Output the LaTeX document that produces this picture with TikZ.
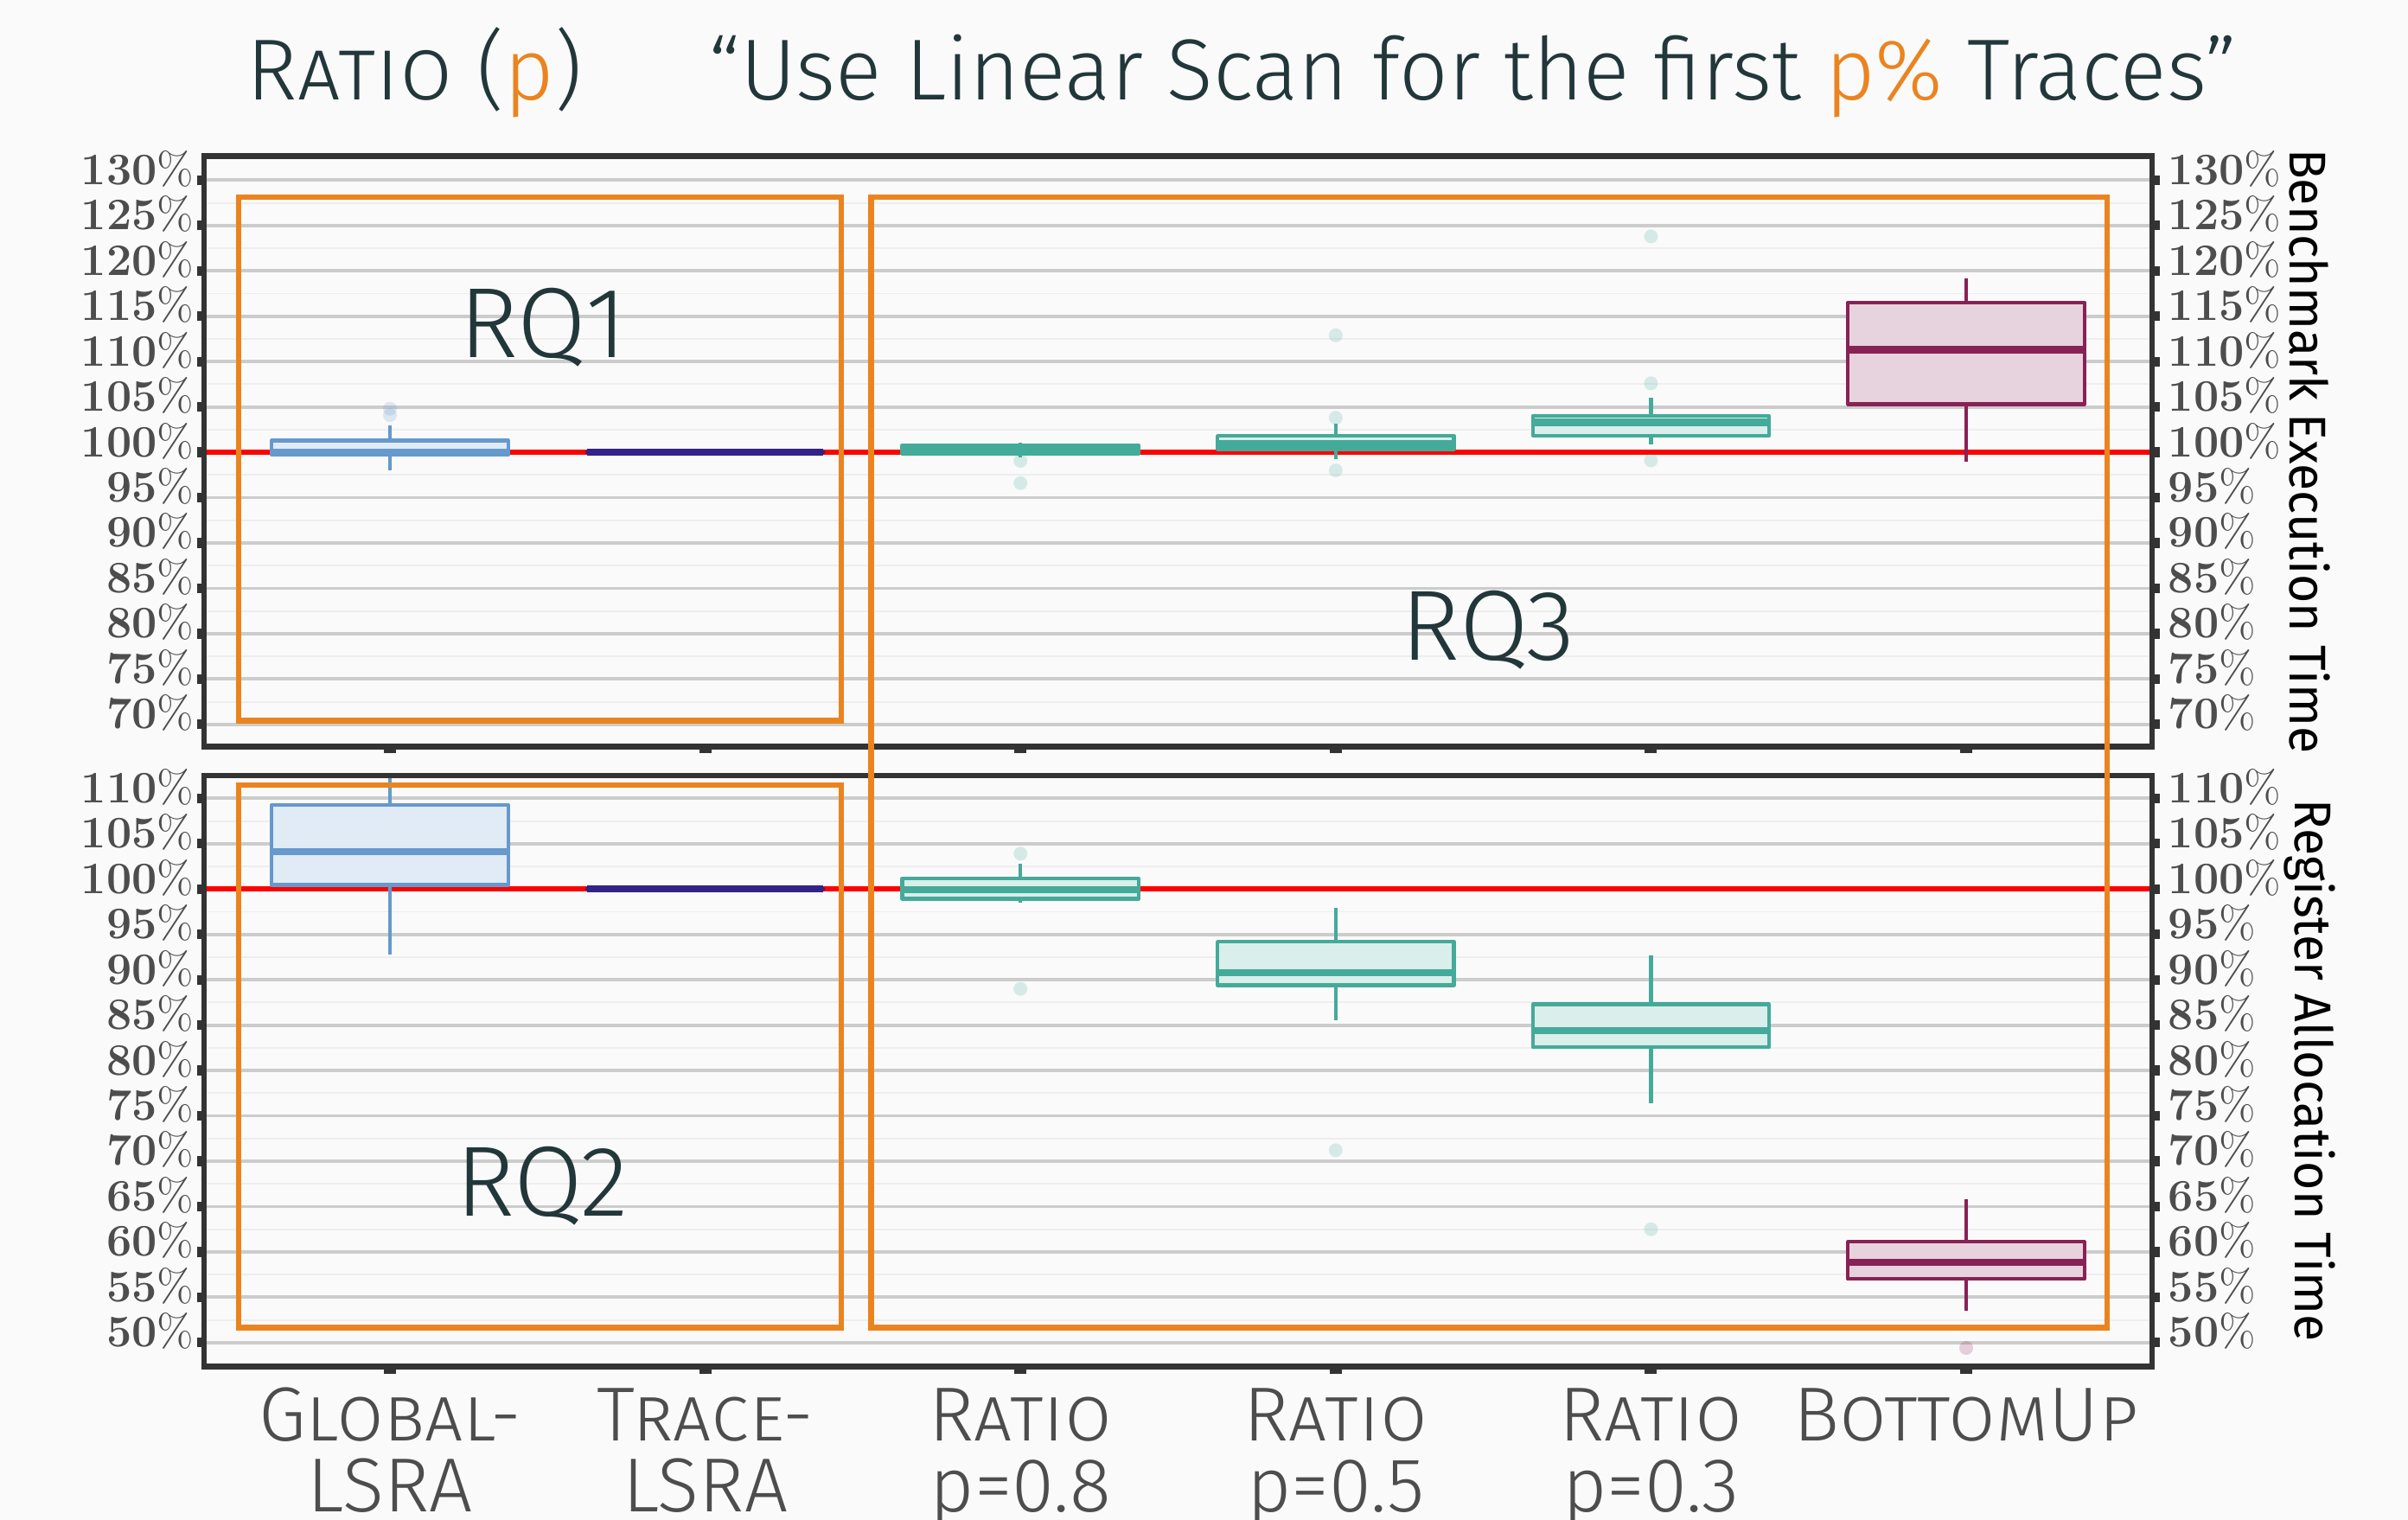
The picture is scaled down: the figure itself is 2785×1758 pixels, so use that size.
\documentclass[tikz,border=0pt]{standalone}
\usepackage{fontspec}
\newfontfamily\firalight{Fira Sans Light}
\newfontfamily\firahead{Fira Sans Light}[FakeStretch=0.99]
\newfontfamily\firaaxis{Fira Sans}[FakeStretch=0.955]

\definecolor{bgcol}{HTML}{FAFAFA}
\definecolor{inkcol}{HTML}{22373A}
\definecolor{labcol}{HTML}{4D4D4D}
\definecolor{framecol}{HTML}{333333}
\definecolor{majcol}{HTML}{CCCCCC}
\definecolor{mincol}{HTML}{EEEEEE}
\definecolor{rqorange}{HTML}{EA841F}
\definecolor{globalblue}{HTML}{6699CC}
\definecolor{traceblue}{HTML}{332288}
\definecolor{ratioteal}{HTML}{44AA99}
\definecolor{bottomwine}{HTML}{882255}

% x, colour, low whisker, q1, median, q3, high whisker
\newcommand*\boxstat[7]{%
  \draw[whisk, #2] (#1,#3) -- (#1,#4);
  \draw[whisk, #2] (#1,#6) -- (#1,#7);
  \draw[boxline, draw=#2, fill=#2!20] (#1-136.7,#4) rectangle (#1+136.7,#6);
  \draw[medline, #2] (#1-136.7,#5) -- (#1+136.7,#5);}
\newcommand*\outpt[3]{\fill[#2, opacity=0.2] (#1,#3) circle[radius=0.08cm];}

\begin{document}
\begin{tikzpicture}[x=0.01cm, y=-0.01cm,
    gridmajor/.style={draw=majcol, line width=1.1pt},
    gridminor/.style={draw=mincol, line width=0.55pt},
    refline/.style={draw=red, line width=1.8pt},
    panelframe/.style={draw=framecol, line width=1.75pt},
    tickmark/.style={draw=framecol, line width=3.2pt},
    rqbox/.style={draw=rqorange, line width=1.85pt},
    whisk/.style={line width=1.2pt},
    boxline/.style={line width=1.2pt, line join=round},
    medline/.style={line width=2.3pt},
    ticklbl/.style={text=labcol, inner sep=0pt, yshift=-0.05cm, font=\fontsize{14.8}{16}\selectfont},
    xlbl/.style={text=labcol, inner sep=0pt, anchor=base, font=\firalight\fontsize{25.2}{28}\selectfont},
    ytitle/.style={text=black, inner sep=0pt, rotate=-90, font=\firaaxis\fontsize{17}{20}\selectfont},
    rqlabel/.style={text=inkcol, inner sep=0pt, anchor=base, font=\firalight\fontsize{32.8}{36}\selectfont},
    headline/.style={text=inkcol, inner sep=0pt, anchor=base west, font=\firahead\fontsize{28.5}{32}\selectfont}
  ]

    % Canvas
    \fill[bgcol] (0,0) rectangle (2785,1758);
    \useasboundingbox (0,0) rectangle (2785,1758);

    % Headline
    \node[headline] (ratiohead) at (285,116) {\textsc{Ratio} (\textcolor{rqorange}{p})};
    \node[headline] (quotehead) at (819,116) {“Use Linear Scan for the first \textcolor{rqorange}{p\%} Traces”};

    % Upper panel: benchmark execution time
    \begin{scope}[yshift=-15.712cm, y=0.10485cm]
        \foreach \v in {67.5,72.5,...,132.5} \draw[gridminor] (236,\v) -- (2489,\v);
        \foreach \v in {70,75,...,130} \draw[gridmajor] (236,\v) -- (2489,\v);
        \draw[refline] (236,100) -- (2489,100);

        \boxstat{451}{globalblue}{98.0}{99.7}{100.0}{101.3}{103.0}
        \outpt{451}{globalblue}{104.8}
        \outpt{451}{globalblue}{104.1}
        \boxstat{815.6}{traceblue}{100}{100}{100}{100}{100}
        \boxstat{1180.2}{ratioteal}{99.4}{99.85}{100.3}{100.8}{101.05}
        \outpt{1180.2}{ratioteal}{99.05}
        \outpt{1180.2}{ratioteal}{96.6}
        \boxstat{1544.8}{ratioteal}{99.2}{100.35}{101.0}{101.8}{103.2}
        \outpt{1544.8}{ratioteal}{112.9}
        \outpt{1544.8}{ratioteal}{103.8}
        \outpt{1544.8}{ratioteal}{98.0}
        \boxstat{1909.4}{ratioteal}{100.9}{101.85}{103.3}{104.0}{106.05}
        \outpt{1909.4}{ratioteal}{123.8}
        \outpt{1909.4}{ratioteal}{107.6}
        \outpt{1909.4}{ratioteal}{99.1}
        \boxstat{2274}{bottomwine}{99.0}{105.3}{111.3}{116.5}{119.2}

        \foreach \v in {70,75,...,130} {
            \draw[tickmark] (228,\v) -- (236,\v);
            \draw[tickmark] (2489,\v) -- (2498,\v);
            \node[ticklbl, anchor=base east] (lt\v) at (225,\v) {\textbf{\v}\%};
            \node[ticklbl, anchor=base west] (rt\v) at (2507,\v) {\textbf{\v}\%};
        }
    \end{scope}

    % Lower panel: register allocation time
    \begin{scope}[yshift=-20.761cm, y=0.10485cm]
        \foreach \v in {52.5,57.5,...,112.5} \draw[gridminor] (236,\v) -- (2489,\v);
        \foreach \v in {50,55,...,110} \draw[gridmajor] (236,\v) -- (2489,\v);
        \draw[refline] (236,100) -- (2489,100);

        \boxstat{451}{globalblue}{92.8}{100.45}{104.1}{109.3}{112.4}
        \boxstat{815.6}{traceblue}{100}{100}{100}{100}{100}
        \boxstat{1180.2}{ratioteal}{98.5}{98.94}{99.9}{101.16}{102.8}
        \outpt{1180.2}{ratioteal}{103.9}
        \outpt{1180.2}{ratioteal}{89.0}
        \boxstat{1544.8}{ratioteal}{85.55}{89.4}{90.8}{94.2}{97.9}
        \outpt{1544.8}{ratioteal}{71.2}
        \boxstat{1909.4}{ratioteal}{76.4}{82.55}{84.4}{87.3}{92.7}
        \outpt{1909.4}{ratioteal}{62.5}
        \boxstat{2274}{bottomwine}{53.5}{57.0}{58.85}{61.1}{65.8}
        \outpt{2274}{bottomwine}{49.4}

        \foreach \v in {50,55,...,110} {
            \draw[tickmark] (228,\v) -- (236,\v);
            \draw[tickmark] (2489,\v) -- (2498,\v);
            \node[ticklbl, anchor=base east] (lb\v) at (225,\v) {\textbf{\v}\%};
            \node[ticklbl, anchor=base west] (rb\v) at (2507,\v) {\textbf{\v}\%};
        }
    \end{scope}

    % Panel frames and category ticks
    \draw[panelframe] (236,180.5) rectangle (2489,863.5);
    \draw[panelframe] (236,896.7) rectangle (2489,1580.5);
    \foreach \xx in {451,815.6,1180.2,1544.8,1909.4,2274} {
        \draw[tickmark, line width=4pt] (\xx,863.5) -- (\xx,871);
        \draw[tickmark, line width=4pt] (\xx,1580.5) -- (\xx,1589);
    }

    % Research question boxes
    \draw[rqbox] (276,228) rectangle (973,833.5);
    \draw[rqbox] (276,908) rectangle (973,1535.5);
    \draw[rqbox] (1007.5,228) rectangle (2437,1535.5);
    \node[rqlabel] (rq1) at (628,414) {RQ1};
    \node[rqlabel] (rq2) at (627,1406) {RQ2};
    \node[rqlabel] (rq3) at (1721,763) {RQ3};

    % Axis titles
    \node[ytitle] (toptitle) at (2671,522) {Benchmark Execution Time};
    \node[ytitle] (bottitle) at (2671,1238) {Register Allocation Time};

    % Category labels
    \foreach \xx/\la/\lb [count=\i] in {451/\textsc{Global-}/LSRA, 815.6/\textsc{Trace-}/LSRA,
            1180.2/\textsc{Ratio}/p=0.8, 1544.8/\textsc{Ratio}/p=0.5,
            1909.4/\textsc{Ratio}/p=0.3, 2274/\textsc{BottomUp}/{}} {
        \node[xlbl] (cat\i a) at (\xx,1666.7) {\la};
        \node[xlbl] (cat\i b) at (\xx,1748) {\lb};
    }

\end{tikzpicture}
\end{document}
